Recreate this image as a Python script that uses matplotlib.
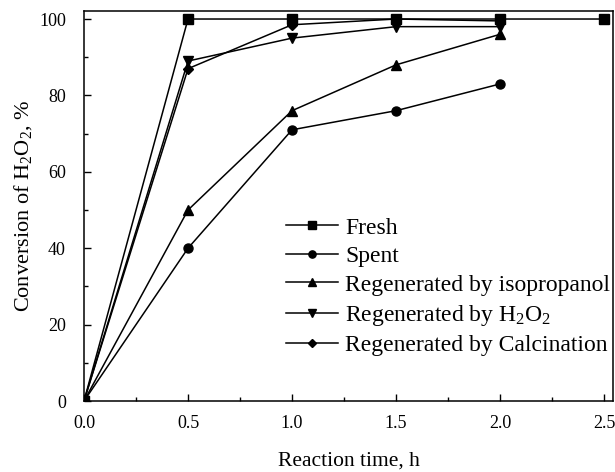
import matplotlib
matplotlib.use("Agg")
import matplotlib.pyplot as plt
from matplotlib.ticker import MultipleLocator

plt.rcParams['font.family'] = ['Liberation Serif', 'DejaVu Serif']
plt.rcParams['mathtext.fontset'] = 'custom'
plt.rcParams['mathtext.rm'] = 'Liberation Serif'
plt.rcParams['mathtext.it'] = 'Liberation Serif:italic'

# Reaction time (h)
t_fresh = [0.0, 0.5, 1.0, 1.5, 2.0, 2.5]
t_other = [0.0, 0.5, 1.0, 1.5, 2.0]

# Conversion of H2O2 (%)
fresh = [0, 100, 100, 100, 100, 100]
spent = [0, 40, 71, 76, 83]
isopropanol = [0, 50, 76, 88, 96]
h2o2 = [0, 89, 95, 98, 98]
calcination = [0, 87, 98.5, 100, 99.5]

fig = plt.figure(figsize=(6.15, 4.72), dpi=100)
ax = fig.add_axes([0.1366, 0.1504, 0.8601, 0.8263])

kw = dict(color='black', lw=1.1, ms=6.5)
ax.plot(t_fresh, fresh, marker='s', label='Fresh', **kw)
ax.plot(t_other, spent, marker='o', label='Spent', **kw)
ax.plot(t_other, isopropanol, marker='^', label='Regenerated by isopropanol', **kw)
ax.plot(t_other, h2o2, marker='v', label='Regenerated by H$_2$O$_2$', **kw)
ax.plot(t_other, calcination, marker='D', label='Regenerated by Calcination',
        color='black', lw=1.1, ms=5.5)

ax.set_xlim(0, 2.543)
ax.set_ylim(0, 102.1)
ax.xaxis.set_major_locator(MultipleLocator(0.5))
ax.xaxis.set_minor_locator(MultipleLocator(0.25))
ax.yaxis.set_major_locator(MultipleLocator(20))
ax.yaxis.set_minor_locator(MultipleLocator(10))
ax.xaxis.set_major_formatter(plt.FuncFormatter(lambda v, p: f"{v:.1f}"))
ax.tick_params(which='both', direction='in', labelsize=13, width=1)
ax.tick_params(which='major', length=5)
ax.tick_params(which='minor', length=3)
ax.tick_params(axis='x', pad=10)
ax.tick_params(axis='y', pad=13)
for s in ax.spines.values():
    s.set_linewidth(1.1)

ax.set_xlabel('Reaction time, h', fontsize=15.5, labelpad=14)
ax.set_ylabel('Conversion of H$_2$O$_2$, %', fontsize=16, labelpad=4)

ax.legend(loc='upper left', bbox_to_anchor=(286 / 615, 1 - 217 / 472),
          bbox_transform=fig.transFigure, frameon=False, fontsize=17,
          handlelength=2.2, labelspacing=0.3, handletextpad=0.3,
          borderpad=0, borderaxespad=0, markerscale=0.8)

fig.savefig('out.png', dpi=100)
